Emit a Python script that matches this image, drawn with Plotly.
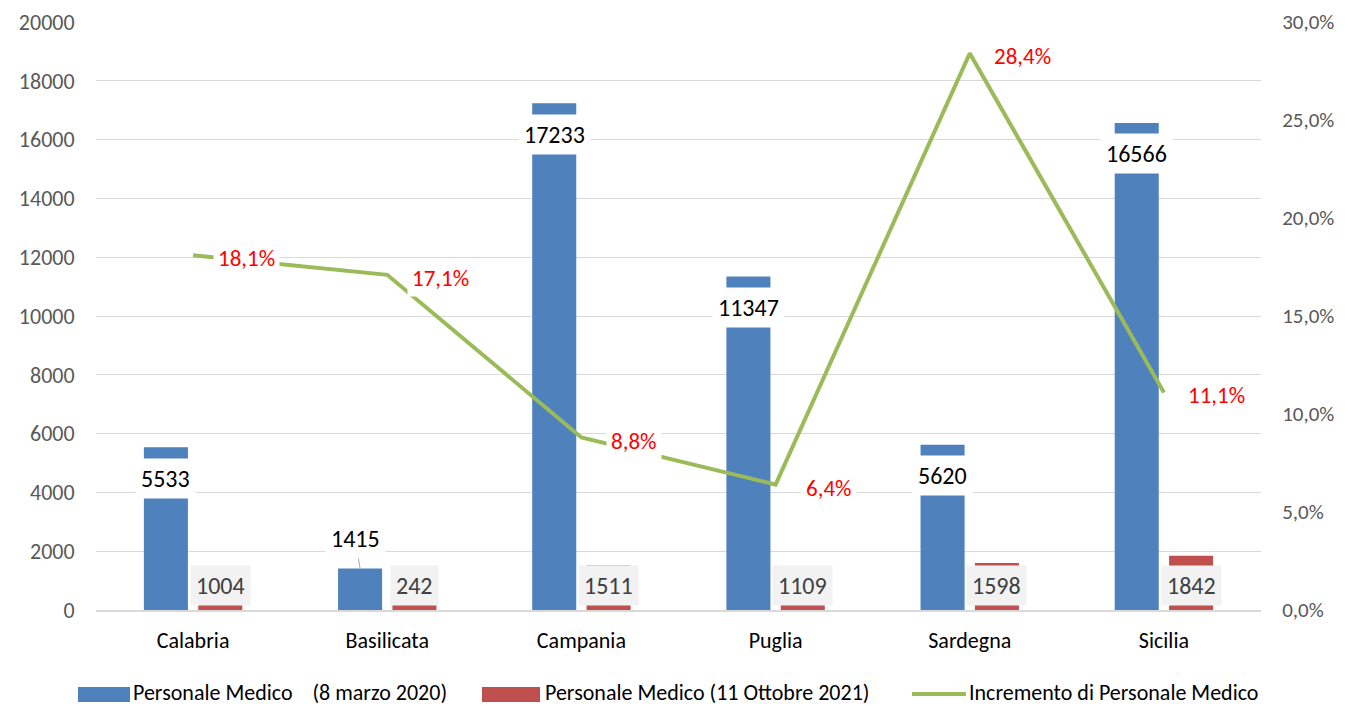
import plotly.graph_objects as go

# data
regioni = ["Calabria", "Basilicata", "Campania", "Puglia", "Sardegna", "Sicilia"]
medici_2020 = [5533, 1415, 17233, 11347, 5620, 16566]
medici_2021 = [1004, 242, 1511, 1109, 1598, 1842]
incremento = [0.181, 0.171, 0.088, 0.064, 0.284, 0.111]
nomi = ["Personale Medico\u00a0\u00a0\u00a0\u00a0(8 marzo 2020)",
        "Personale Medico (11 Ottobre 2021)",
        "Incremento di Personale Medico"]

FONT = "Carlito, Lato, sans-serif"
BLU = "#4F81BD"
ROSSO = "#C0504D"
VERDE = "#9BBB59"

fig = go.Figure()
fig.add_trace(go.Bar(x=regioni, y=medici_2020, name=nomi[0], marker_color=BLU, marker_line_width=0))
fig.add_trace(go.Bar(x=regioni, y=medici_2021, name=nomi[1], marker_color=ROSSO, marker_line_width=0))
fig.add_trace(go.Scatter(x=regioni, y=incremento, name=nomi[2], mode="lines",
                         line=dict(color=VERDE, width=4), yaxis="y2"))

ann = []
off = 0.14
for i, (a, b, p) in enumerate(zip(medici_2020, medici_2021, incremento)):
    # blue labels (white box over the bar top)
    if a > 3000:
        ann.append(dict(x=i - off, y=a - 1050, xref="x", yref="y", text=str(a), showarrow=False,
                        bgcolor="white", borderpad=5, font=dict(size=24, color="black", family=FONT)))
    else:
        ann.append(dict(x=i - off, y=a, xref="x", yref="y", text=str(a), showarrow=True,
                        ax=-5, ay=-30, arrowhead=0, arrowwidth=1, arrowcolor="#a6a6a6",
                        bgcolor="white", borderpad=5, font=dict(size=24, color="black", family=FONT)))
    # red labels (grey box near the axis)
    ann.append(dict(x=i + off, y=850, xref="x", yref="y", text=str(b), showarrow=False,
                    bgcolor="#f2f2f2", borderpad=5, font=dict(size=24, color="#404040", family=FONT)))
    # line labels
    ann.append(dict(x=i, y=p, xref="x", yref="y2", text=f"{p*100:.1f}%".replace(".", ","),
                    showarrow=False, xshift=53, yshift=-3, bgcolor="white", borderpad=4,
                    font=dict(size=23, color="#FF0000", family=FONT)))

# legend drawn by hand (wide swatches like the original); page body adds an 8px offset
W = 1165.0
def px(v):
    return (v - 96) / W
def py(v):
    return (610 - v) / 588.0
shapes = [
    dict(type="rect", xref="paper", yref="paper", x0=px(78), x1=px(130), y0=py(702), y1=py(687),
         fillcolor=BLU, line_width=0),
    dict(type="rect", xref="paper", yref="paper", x0=px(482), x1=px(540), y0=py(702), y1=py(687),
         fillcolor=ROSSO, line_width=0),
    dict(type="line", xref="paper", yref="paper", x0=px(912), x1=px(966), y0=py(694), y1=py(694),
         line=dict(color=VERDE, width=4)),
]
for xs, t in zip([132, 544, 968], nomi):
    ann.append(dict(x=px(xs), y=py(692), xref="paper", yref="paper", text=t, showarrow=False,
                    xanchor="left", yanchor="middle", borderpad=0,
                    font=dict(size=22, color="black", family=FONT)))

fig.update_layout(
    width=1337, height=698,
    margin=dict(l=88, r=84, t=14, b=96, autoexpand=False),
    paper_bgcolor="white", plot_bgcolor="white",
    font=dict(family=FONT, size=22, color="#595959"),
    separators=",.",
    barmode="group", bargap=0.44, bargroupgap=0.19,
    annotations=ann, shapes=shapes,
    showlegend=False,
    xaxis=dict(showgrid=False, showline=True, linecolor="#d9d9d9", linewidth=2,
               tickfont=dict(size=22, color="black"), ticks="outside", ticklen=10,
               tickcolor="rgba(0,0,0,0)"),
    yaxis=dict(range=[0, 20000], dtick=2000, tickformat="d", gridcolor="#d9d9d9", gridwidth=1,
               zeroline=False, ticks="outside", ticklen=16, tickcolor="rgba(0,0,0,0)"),
    yaxis2=dict(range=[0, 0.3], dtick=0.05, tickformat=".1%", overlaying="y", side="right",
                showgrid=False, zeroline=False, ticks="outside", ticklen=16,
                tickfont=dict(size=21), tickcolor="rgba(0,0,0,0)"),
)

fig.write_html("out.html")
